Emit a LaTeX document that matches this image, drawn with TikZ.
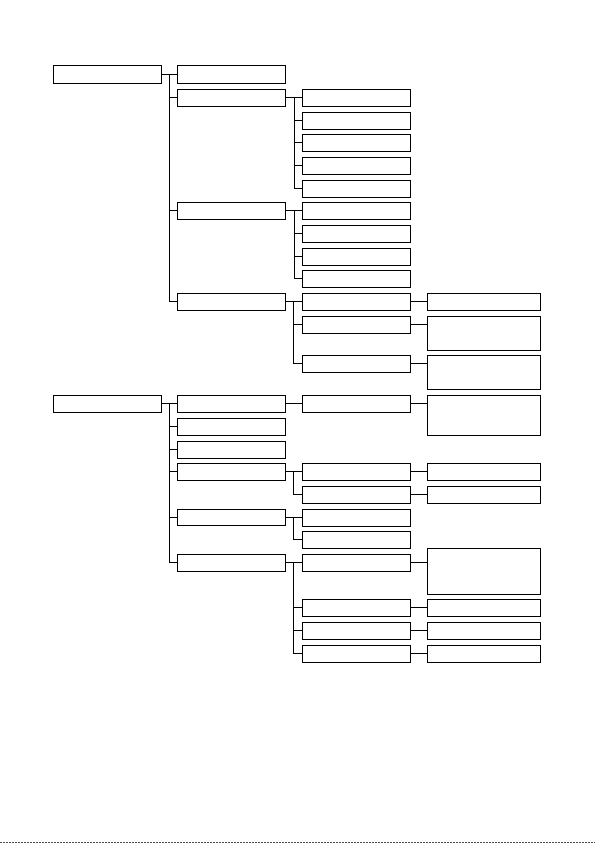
\documentclass[tikz,border=0pt]{standalone}
\usetikzlibrary{positioning}
\tikzset{
  bx/.style={draw=black, line width=1pt, fill=white, inner sep=0pt, outer sep=0pt, anchor=north west},
  conn/.style={draw=black, line width=1pt},
}
\newcommand{\mybox}[5]{% name, x1, y1, x2, y2
  \pgfmathsetmacro{\mbw}{#4-#2}\pgfmathsetmacro{\mbh}{#5-#3}%
  \node[bx, minimum width=\mbw pt, minimum height=\mbh pt] (#1) at (#2,#3) {};}
\begin{document}
\begin{tikzpicture}[x=1pt,y=-1pt]
\useasboundingbox (0,0) rectangle (595,843);
% ---------- group 1 ----------
\mybox{A}{53}{66}{161}{83}
\mybox{A1}{177.5}{66}{285.5}{83}
\mybox{A2}{177.5}{89.3}{285.5}{106.3}
\mybox{A3}{177.5}{202}{285.5}{219}
\mybox{A4}{177.5}{293.3}{285.5}{310.3}
\mybox{A2a}{302}{89.3}{410}{106.3}
\mybox{A2b}{302}{112}{410}{129}
\mybox{A2c}{302}{134.3}{410}{151.3}
\mybox{A2d}{302}{157}{410}{174}
\mybox{A2e}{302}{180}{410}{197}
\mybox{A3a}{302}{202}{410}{219}
\mybox{A3b}{302}{225}{410}{242}
\mybox{A3c}{302}{248}{410}{265}
\mybox{A3d}{302}{270}{410}{287}
\mybox{A4a}{302}{293.3}{410}{310.3}
\mybox{A4b}{302}{316}{410}{333}
\mybox{A4c}{302}{355.3}{410}{372.3}
\mybox{A4aa}{427}{293.3}{540.5}{310.3}
\mybox{A4bb}{427}{316}{540.5}{350.3}
\mybox{A4cc}{427}{355.3}{540.5}{389.5}
% ---------- group 2 ----------
\mybox{B}{53}{395.3}{161}{412.3}
\mybox{B1}{177.5}{395.3}{285.5}{412.3}
\mybox{B2}{177.5}{418}{285.5}{435}
\mybox{B3}{177.5}{441}{285.5}{458}
\mybox{B4}{177.5}{463.3}{285.5}{480.3}
\mybox{B5}{177.5}{509.3}{285.5}{525.8}
\mybox{B6}{177.5}{554.3}{285.5}{571.3}
\mybox{B1a}{302}{395.3}{410}{412.3}
\mybox{B4a}{302}{463.3}{410}{480.3}
\mybox{B4b}{302}{486.3}{410}{503.3}
\mybox{B5a}{302}{509.3}{410}{526}
\mybox{B5b}{302}{531}{410}{548}
\mybox{B6a}{302}{554.3}{410}{571.3}
\mybox{B6b}{302}{599.3}{410}{616.3}
\mybox{B6c}{302}{622.3}{410}{639.3}
\mybox{B6d}{302}{645.3}{410}{662.3}
\mybox{B1aa}{427}{395.3}{540.5}{435.3}
\mybox{B4aa}{427}{463.3}{540.5}{480.3}
\mybox{B4bb}{427}{486.3}{540.5}{503.3}
\mybox{B6aa}{427}{548.3}{540.5}{594.3}
\mybox{B6bb}{427}{599.3}{540.5}{616.3}
\mybox{B6cc}{427}{622.3}{540.5}{639.3}
\mybox{B6dd}{427}{645.3}{540.5}{662.3}
% ---------- connectors ----------
\foreach \c in {A1,A2,A3,A4}{\draw[conn] (A.east) -- ++(8,0) |- (\c.west);}
\foreach \c in {A2a,A2b,A2c,A2d,A2e}{\draw[conn] (A2.east) -- ++(8.5,0) |- (\c.west);}
\foreach \c in {A3a,A3b,A3c,A3d}{\draw[conn] (A3.east) -- ++(8.5,0) |- (\c.west);}
\foreach \c in {A4a,A4b,A4c}{\draw[conn] (A4.east) -- ++(7.5,0) |- (\c.west);}
\foreach \p/\c in {A4a/A4aa,A4b/A4bb,A4c/A4cc}{\draw[conn] (\p.east) -- (\p.east -| \c.west);}
\foreach \c in {B1,B2,B3,B4,B5,B6}{\draw[conn] (B.east) -- ++(8,0) |- (\c.west);}
\draw[conn] (B1.east) -- (B1a.west);
\foreach \c in {B4a,B4b}{\draw[conn] (B4.east) -- ++(8,0) |- (\c.west);}
\foreach \c in {B5a,B5b}{\draw[conn] (B5.east) -- ++(8,0) |- (\c.west);}
\foreach \c in {B6a,B6b,B6c,B6d}{\draw[conn] (B6.east) -- ++(7.5,0) |- (\c.west);}
\foreach \p/\c in {B1a/B1aa,B4a/B4aa,B4b/B4bb,B6a/B6aa,B6b/B6bb,B6c/B6cc,B6d/B6dd}{\draw[conn] (\p.east) -- (\p.east -| \c.west);}
% bottom edge line
\draw[line width=0.8pt, black!70, dash pattern=on 2pt off 1pt] (0,842.4) -- (595,842.4);
\end{tikzpicture}
\end{document}
